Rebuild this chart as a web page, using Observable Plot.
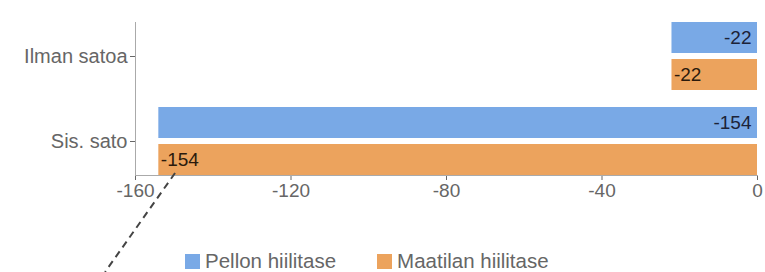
<!DOCTYPE html>
<html>
<head>
<meta charset="utf-8">
<script src="https://cdn.jsdelivr.net/npm/d3@7"></script>
<script src="https://cdn.jsdelivr.net/npm/@observablehq/plot@0.6"></script>
<style>
  html, body { margin: 0; padding: 0; background: #fff; }
  #wrap { position: relative; width: 765px; height: 272px; overflow: hidden; }
  #legend { position: absolute; top: 249px; left: 185px; display: flex; gap: 41px;
            font-family: "Liberation Sans", Arial, sans-serif; font-size: 20.5px; color: #666; }
  #legend span.item { display: flex; align-items: center; }
  #legend span.sw { display: inline-block; width: 15px; height: 15px; margin-right: 5px; }
</style>
</head>
<body>
<div id="wrap"><div id="legend"></div></div>
<script>
const categories = ["Ilman satoa", "Sis. sato"];
const series = ["Pellon hiilitase", "Maatilan hiilitase"];
const pellonValues = [-22, -154];
const maatilanValues = [-22, -154];
const xTicks = [-160, -120, -80, -40, 0];
const colors = ["#79a9e6", "#eca35d"];
const annotation = [{x1: -149.7, x2: -167.7}];

const rows = [];
categories.forEach((c, i) => {
  rows.push({cat: c, series: series[0], value: pellonValues[i]});
  rows.push({cat: c, series: series[1], value: maatilanValues[i]});
});

const plot = Plot.plot({
  width: 765,
  height: 272,
  marginTop: 13,
  marginBottom: 89,
  marginLeft: 135,
  marginRight: 8,
  style: {fontFamily: "Liberation Sans, Arial, sans-serif", fontSize: "19px", color: "#666", background: "#fff"},
  x: {domain: [-160, 0], ticks: xTicks, tickFormat: d => String(d), label: null, tickSize: 5, tickPadding: 3},
  y: {domain: series, axis: null, paddingInner: 0.17, paddingOuter: 0},
  fy: {domain: categories, paddingInner: 0.2, paddingOuter: 0.1, axis: null},
  color: {domain: series, range: colors},
  marks: [
    Plot.axisFy({anchor: "left", label: null, tickSize: 5, tickPadding: 3, fontSize: 20}),
    Plot.barX(rows, {x: "value", y: "series", fy: "cat", fill: "series"}),
    Plot.text(rows.filter(d => d.series === series[0]), {
      x: () => 0, y: "series", fy: "cat", text: d => String(d.value),
      textAnchor: "end", dx: -6, fill: "#1c2338", fontSize: 19
    }),
    Plot.text(rows.filter(d => d.series === series[1]), {
      x: "value", y: "series", fy: "cat", text: d => String(d.value),
      textAnchor: "start", dx: 2, fill: "#2b1a0c", fontSize: 19
    }),
    Plot.frame({anchor: "left", stroke: "#aaa", facet: "super"}),
    Plot.frame({anchor: "bottom", stroke: "#aaa", facet: "super"})
  ]
});
document.getElementById("wrap").prepend(plot);

// annotation dashed line
const xs = plot.scale("x");
const orangeRects = Array.from(plot.querySelectorAll("rect"))
  .filter(r => (r.getAttribute("fill") || "").toLowerCase() === colors[1]);
let bottom = 172;
if (orangeRects.length) {
  const big = orangeRects.reduce((a, b) => (+a.getAttribute("width") > +b.getAttribute("width") ? a : b));
  const bb = big.getBoundingClientRect();
  const sb = plot.getBoundingClientRect();
  bottom = bb.bottom - sb.top - 2;
}
d3.select(plot).append("line")
  .attr("x1", xs.apply(annotation[0].x1)).attr("y1", bottom)
  .attr("x2", xs.apply(annotation[0].x2)).attr("y2", 272)
  .attr("stroke", "#444").attr("stroke-width", 2).attr("stroke-dasharray", "7,5");

// legend
const lg = document.getElementById("legend");
series.forEach((s, i) => {
  const it = document.createElement("span");
  it.className = "item";
  it.innerHTML = `<span class="sw" style="background:${colors[i]}"></span>${s}`;
  lg.appendChild(it);
});
</script>
</body>
</html>
